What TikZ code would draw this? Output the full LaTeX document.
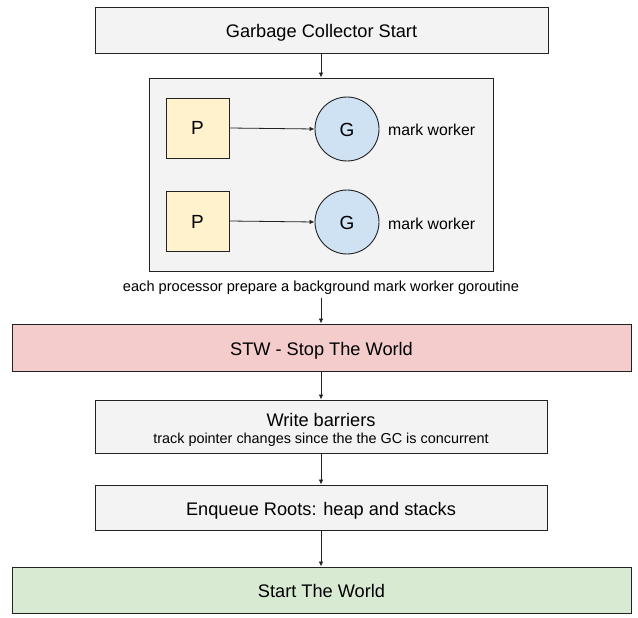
\documentclass[tikz,border=0pt]{standalone}
\usepackage{fontspec}
\setmainfont{Liberation Sans}
\usetikzlibrary{arrows.meta}
\definecolor{boxgray}{HTML}{F3F3F3}
\definecolor{pyellow}{HTML}{FFF2CC}
\definecolor{gblue}{HTML}{CFE2F3}
\definecolor{stwred}{HTML}{F4CCCC}
\definecolor{swgreen}{HTML}{D9EAD3}
\definecolor{edge}{HTML}{222222}
\begin{document}
\begin{tikzpicture}[x=1pt,y=-1pt,
  stage/.style={draw=edge,line width=0.9pt,inner sep=0pt,text height=15pt,text depth=0pt,font=\fontsize{18.2}{21}\selectfont},
  pbox/.style={draw=edge,line width=0.9pt,fill=pyellow,minimum width=63pt,minimum height=60pt,inner sep=0pt,text height=14pt,text depth=0pt,font=\fontsize{19}{21}\selectfont},
  gcirc/.style={draw=edge,line width=0.9pt,fill=gblue,circle,minimum size=64pt,inner sep=0pt,text height=14pt,text depth=0pt,font=\fontsize{19}{21}\selectfont},
  lbl/.style={inner sep=0pt,font=\fontsize{15.8}{18}\selectfont},
  small/.style={inner sep=0pt,font=\fontsize{14.6}{17}\selectfont},
  conn/.style={draw=edge,line width=0.8pt,-{Latex[length=5pt,width=4.5pt]}}
]
\useasboundingbox (0,0) rectangle (638,618);
% stages
\node[stage,fill=boxgray,minimum width=453pt,minimum height=46pt] (gcs) at (321.5,30) {Garbage Collector Start};
\node[draw=edge,line width=0.9pt,fill=boxgray,minimum width=344pt,minimum height=193pt,inner sep=0pt] (cont) at (321,174.5) {};
\node[pbox] (p1) at (197.5,128) {P};
\node[pbox] (p2) at (197.5,221) {P};
\node[gcirc] (g1) at (347,129) {G};
\node[gcirc] (g2) at (347,222) {G};
\node[lbl,anchor=west] (m1) at (388,130) {mark worker};
\node[lbl,anchor=west] (m2) at (388,224) {mark worker};
\node[small] (note) at (321,288) {each processor prepare a background mark worker goroutine};
\node[stage,fill=stwred,minimum width=619pt,minimum height=47pt] (stw) at (321.5,347.5) {STW - Stop The World};
\node[draw=edge,line width=0.9pt,fill=boxgray,minimum width=452pt,minimum height=53pt,inner sep=0pt] (wb) at (321,426.5) {};
\node[inner sep=0pt,font=\fontsize{18.2}{21}\selectfont] (wbt) at (321,419.5) {Write barriers};
\node[inner sep=0pt,font=\fontsize{14.4}{17}\selectfont] (wbs) at (321,439.5) {track pointer changes since the the GC is concurrent};
\node[stage,fill=boxgray,minimum width=452pt,minimum height=45pt] (enq) at (321,507.5) {Enqueue Roots: heap and stacks};
\node[stage,fill=swgreen,minimum width=619pt,minimum height=46pt] (sw) at (321.5,590) {Start The World};
% connectors
\draw[conn] (gcs.south -| cont.north) -- (cont.north);
\draw[conn] (p1.east) -- (g1.west);
\draw[conn] (p2.east) -- (g2.west);
\coordinate (nb) at (321,298);
\draw[conn] (nb) -- (nb |- stw.north);
\draw[conn] (stw.south -| wb.north) -- (wb.north);
\draw[conn] (wb.south) -- (enq.north);
\draw[conn] (enq.south) -- (enq.south |- sw.north);
\end{tikzpicture}
\end{document}
